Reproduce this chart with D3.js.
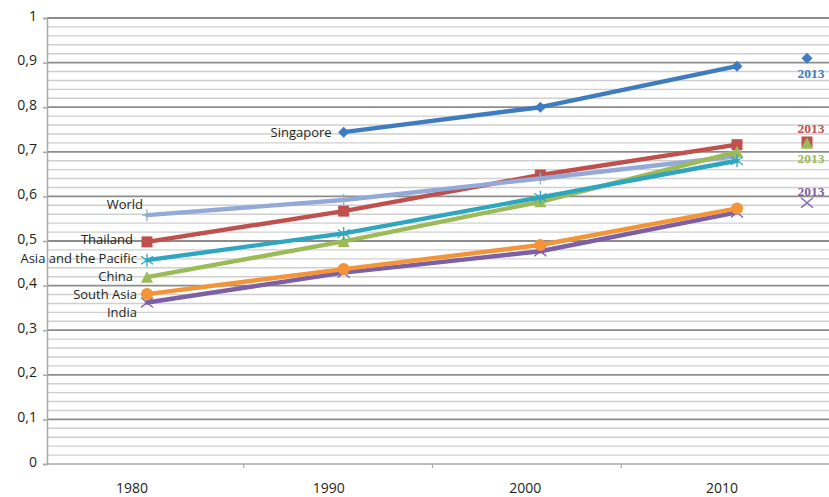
<!DOCTYPE html>
<html>
<head>
<meta charset="utf-8">
<script src="https://cdn.jsdelivr.net/npm/d3@7"></script>
<style>
  html, body { margin: 0; padding: 0; background: #fff; }
  svg { display: block; }
  text { font-family: "Open Sans", "Noto Sans", sans-serif; fill: #231f20; }
</style>
</head>
<body>
<svg id="chart" width="829" height="497"></svg>
<script>
// Human development index, 1980-2010, with 2013 values shown separately
const years = [1980, 1990, 2000, 2010];
const seriesNames = ["Singapore", "Thailand", "World", "China", "Asia and the Pacific", "India", "South Asia"];
const singapore   = [null, 0.744, 0.800, 0.892];
const thailand    = [0.498, 0.567, 0.648, 0.716];
const world       = [0.558, 0.592, 0.640, 0.690];
const china       = [0.419, 0.499, 0.588, 0.700];
const asiaPacific = [0.457, 0.517, 0.598, 0.680];
const india       = [0.362, 0.429, 0.477, 0.564];
const southAsia   = [0.381, 0.437, 0.491, 0.573];

// Separate 2013 points
const year2013 = 2013;
const names2013 = ["Singapore", "Thailand", "China", "India"];
const values2013 = [0.910, 0.722, 0.719, 0.586];
const label2013 = "2013";

const yTicks = [0, 0.1, 0.2, 0.3, 0.4, 0.5, 0.6, 0.7, 0.8, 0.9, 1];
const yTickLabels = ["0", "0,1", "0,2", "0,3", "0,4", "0,5", "0,6", "0,7", "0,8", "0,9", "1"];
const xTickLabels = ["1980", "1990", "2000", "2010"];

const valuesByName = {
  "Singapore": singapore, "Thailand": thailand, "World": world, "China": china,
  "Asia and the Pacific": asiaPacific, "India": india, "South Asia": southAsia
};

// Styling per series
const style = {
  "Singapore":            { color: "#3f7cbf", marker: "diamond" },
  "Thailand":             { color: "#c0504d", marker: "square" },
  "World":                { color: "#93aad8", marker: "plus" },
  "China":                { color: "#9bbb59", marker: "triangle" },
  "Asia and the Pacific": { color: "#2fa6bf", marker: "asterisk" },
  "India":                { color: "#7d5fa6", marker: "times" },
  "South Asia":           { color: "#f39439", marker: "circle" }
};

// Where each series name sits relative to its first point
const nameLabel = {
  "Singapore":            { dx: -12, dy: 0 },
  "Thailand":             { dx: -14, dy: -2 },
  "World":                { dx: -4,  dy: -11 },
  "China":                { dx: -14, dy: -1 },
  "Asia and the Pacific": { dx: -10, dy: -2 },
  "India":                { dx: -10, dy: 10 },
  "South Asia":           { dx: -10, dy: 0 }
};
// 2013 labels: above or below the marker
const label2013Dy = { "Singapore": 15, "Thailand": -14, "China": 15, "India": -11 };

const svg = d3.select("#chart");
const plot = { left: 47, right: 829, top: 18, bottom: 464 };
const fontSize = "13px";

const y = d3.scaleLinear().domain([0, 1]).range([plot.bottom, plot.top]);
const x = d3.scaleLinear().domain([1980, 2010, 2013]).range([147, 737, 807]);
// category slots used for the axis tick marks
const band = d3.scaleBand().domain(years).range([55, 810]);

// minor gridlines
const minor = d3.range(0, 1.0001, 0.02).filter(v => Math.abs(v * 10 - Math.round(v * 10)) > 1e-6);
svg.append("g").selectAll("line").data(minor).join("line")
  .attr("x1", plot.left).attr("x2", plot.right)
  .attr("y1", d => y(d)).attr("y2", d => y(d))
  .attr("stroke", "#cfcfcf").attr("stroke-width", 1.4);

// major gridlines
svg.append("g").selectAll("line").data(yTicks.slice(1)).join("line")
  .attr("x1", plot.left).attr("x2", plot.right)
  .attr("y1", d => y(d)).attr("y2", d => y(d))
  .attr("stroke", "#8c8c8c").attr("stroke-width", 1.8);

// y axis
const yAxis = svg.append("g").attr("transform", `translate(${plot.left},0)`)
  .call(d3.axisLeft(y).tickValues(yTicks).tickSize(4).tickPadding(6)
    .tickFormat((d, i) => yTickLabels[i]));
yAxis.select(".domain").attr("stroke", "#a8a8a8").attr("stroke-width", 1.5);
yAxis.selectAll(".tick line").attr("stroke", "#a8a8a8").attr("stroke-width", 1.5);
yAxis.selectAll(".tick text").style("font-size", "14px").attr("fill", "#231f20")
  .attr("font-family", "Open Sans, Noto Sans, sans-serif").attr("dy", "0.15em");

// x axis baseline and ticks between categories
svg.append("line").attr("x1", plot.left).attr("x2", plot.right)
  .attr("y1", plot.bottom).attr("y2", plot.bottom)
  .attr("stroke", "#a8a8a8").attr("stroke-width", 1.5);
svg.append("g").selectAll("line").data(years.slice(1)).join("line")
  .attr("x1", d => band(d)).attr("x2", d => band(d))
  .attr("y1", plot.bottom).attr("y2", plot.bottom + 4)
  .attr("stroke", "#a8a8a8").attr("stroke-width", 1.2);
svg.append("g").selectAll("text").data(years).join("text")
  .attr("x", d => x(d)).attr("dx", -15).attr("y", 493)
  .attr("text-anchor", "middle").style("font-size", "14px")
  .text((d, i) => xTickLabels[i]);

// marker path builders
function markerPath(kind) {
  switch (kind) {
    case "diamond": return "M0,-5.5L5.5,0L0,5.5L-5.5,0Z";
    case "square": return "M-5.5,-5.5H5.5V5.5H-5.5Z";
    case "triangle": return "M0,-6L6,5.5H-6Z";
    case "circle": return d3.symbol(d3.symbolCircle, 115)();
    case "plus": return "M0,-6V6M-5,0H5";
    case "asterisk": return "M0,-6.5V6.5M-6,-4L6,4M-6,4L6,-4";
    case "times": return "M-6,-5L6,5M-6,5L6,-5";
  }
}
const strokeMarkers = new Set(["plus", "asterisk", "times"]);

function drawMarker(g, kind, color, cx, cy) {
  const p = g.append("path").attr("d", markerPath(kind))
    .attr("transform", `translate(${cx},${cy})`);
  if (strokeMarkers.has(kind)) p.attr("fill", "none").attr("stroke", color).attr("stroke-width", 1.3);
  else p.attr("fill", color);
}

const line = d3.line().defined(d => d.v != null).x(d => x(d.year)).y(d => y(d.v));

const seriesLayer = svg.append("g");
seriesNames.forEach(name => {
  const vals = valuesByName[name];
  const pts = years.map((yr, i) => ({ year: yr, v: vals[i] }));
  const g = seriesLayer.append("g");
  g.append("path").datum(pts).attr("d", line)
    .attr("fill", "none").attr("stroke", style[name].color)
    .attr("stroke-width", 4.4).attr("stroke-linejoin", "round").attr("stroke-linecap", "round");
  pts.filter(d => d.v != null).forEach(d =>
    drawMarker(g, style[name].marker, style[name].color, x(d.year), y(d.v)));

  const first = pts.find(d => d.v != null);
  const lab = nameLabel[name];
  svg.append("text")
    .attr("x", x(first.year) + lab.dx).attr("y", y(first.v) + lab.dy)
    .attr("dy", "0.35em").attr("text-anchor", "end")
    .style("font-size", fontSize)
    .text(name);
});

// 2013 markers with their year labels
const g13 = svg.append("g");
names2013.forEach((name, i) => {
  drawMarker(g13, style[name].marker, style[name].color, x(year2013), y(values2013[i]));
});
names2013.forEach((name, i) => {
  g13.append("text")
    .attr("x", x(year2013) + 4).attr("y", y(values2013[i]) + label2013Dy[name])
    .attr("dy", "0.35em").attr("text-anchor", "middle")
    .style("font-family", "'Liberation Serif', 'DejaVu Serif', serif")
    .style("font-weight", "bold").style("font-size", "13.5px")
    .style("fill", style[name].color)
    .text(label2013);
});
</script>
</body>
</html>
